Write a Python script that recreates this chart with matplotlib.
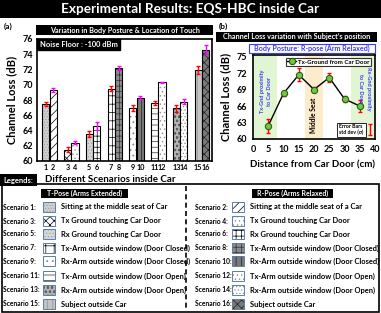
import numpy as np
import matplotlib
matplotlib.use('Agg')
from matplotlib import pyplot as plt
from matplotlib.patches import Rectangle

plt.rcParams['font.family'] = ['Lato', 'DejaVu Sans']
plt.rcParams['hatch.linewidth'] = 0.5

# --- data ---
scenarios = list(range(1, 17))
channel_loss = [67.5, 69.3, 61.5, 62.4, 63.5, 64.6, 69.5, 72.2,
                66.9, 68.3, 67.6, 70.3, 66.9, 67.8, 71.9, 74.6]
channel_err = [0.3, 0.3, 0.3, 0.2, 0.4, 0.5, 0.3, 0.3,
               0.4, 0.2, 0.3, 0.1, 0.5, 0.3, 0.5, 0.6]

distance = [5, 10, 15, 20, 25, 30, 35]
loss_pos = [62.4, 68.3, 71.7, 69.0, 71.2, 67.3, 66.0]
loss_pos_err = [1.3, 0.5, 1.2, 0.4, 0.8, 0.6, 1.1]

t_pose_desc = ['Sitting at the middle seat of Car', 'Tx Ground touching Car Door',
               'Rx Ground touching Car Door', 'Tx-Arm outside window (Door Closed)',
               'Rx-Arm outside window (Door Closed)', 'Tx-Arm outside window (Door Open)',
               'Rx-Arm outside window (Door Open)', 'Subject outside Car']
r_pose_desc = ['Sitting at the middle seat of a Car', 'Tx Ground touching Car Door',
               'Rx Ground touching Car Door', 'Tx-Arm outside window (Door Closed)',
               'Rx-Arm outside window (Door Closed)', 'Tx-Arm outside window (Door Open)',
               'Rx-Arm outside window (Door Open)', 'Subject outside Car']

# bar styles (face, hatch, hatch colour)
faces = ['#cfcfcf', 'white', 'white', 'white', '#d6d6d6', 'white', 'white', '#8c8c8c',
         'white', '#7a7a7a', 'white', 'white', '#b4b4b4', 'white', '#c4c4c4', '#7a7a7a']
hatches = ['......', '////', 'xxxx', '....', '.....', '+++', '++', '+++',
           '...', '|||', '---', '....', 'oooo', '.....', '|||', 'xxxx']
hcols = ['#a0a0a0', 'black', 'black', '#909090', '#a0a0a0', 'black', 'black', '#303030',
         '#808080', '#202020', '#303030', '#909090', '#606060', '#909090', '#909090', '#202020']

W, H = 381, 313
fig = plt.figure(figsize=(W / 100, H / 100), dpi=100)


def box(x0, y0, x1, y1, fc='black', ec='none', lw=0, ls='-', hatch=None):
    r = Rectangle((x0 / W, 1 - y1 / H), (x1 - x0) / W, (y1 - y0) / H,
                  transform=fig.transFigure, fc=fc, ec=ec, lw=lw, ls=ls, hatch=hatch)
    fig.patches.append(r)


def txt(x, y, s, **kw):
    kw.setdefault('va', 'center')
    kw.setdefault('fontweight', 'bold')
    fig.text(x / W, 1 - y / H, s, **kw)


# --- title bar ---
box(0, 0, W, 18)
txt(W / 2, 9, 'Experimental Results: EQS-HBC inside Car', ha='center', color='white', fontsize=9.8)

# --- (a) bar chart ---
ax = fig.add_axes([37 / W, 1 - 161 / H, 175 / W, 122 / H])
pos = []
for i in range(16):
    pos.append(i // 2 + (-0.17 if i % 2 == 0 else 0.17))
for i in range(16):
    ax.bar(pos[i], channel_loss[i] - 60, bottom=60, width=0.33, color=faces[i],
           edgecolor=hcols[i], hatch=hatches[i], linewidth=0)
    ax.bar(pos[i], channel_loss[i] - 60, bottom=60, width=0.33, fill=False,
           edgecolor='black', linewidth=0.8)
    ax.errorbar(pos[i], channel_loss[i], yerr=channel_err[i], fmt='none',
                ecolor='red' if i % 2 == 0 else 'magenta', elinewidth=1, capsize=1.5)
ax.set_ylim(60, 76)
ax.set_xlim(-0.57, 7.46)
ax.set_yticks(range(60, 77, 2))
ax.set_xticks(pos)
ax.set_xticklabels([str(s) for s in scenarios])
ax.tick_params(axis='both', length=0, labelsize=6.5, pad=3)
ax.tick_params(axis='x', labelsize=5.2, pad=2)
for lab in ax.get_xticklabels() + ax.get_yticklabels():
    lab.set_fontweight('bold')
for sp in ax.spines.values():
    sp.set_linewidth(1.2)
ax.text(0.015, 0.985, 'Noise Floor : -100 dBm', transform=ax.transAxes, ha='left', va='top',
        fontsize=5.4, fontweight='bold', color='white',
        bbox=dict(boxstyle='square,pad=0.3', fc='black', ec='black'))
txt(12, 100, 'Channel Loss (dB)', rotation=90, ha='center', fontsize=8)
txt(110, 179, 'Different Scenarios inside Car', ha='center', fontsize=7)
txt(8, 26, '(a)', ha='center', fontsize=6)
box(36, 25, 213, 35)
txt(124.5, 30, 'Variation in Body Posture & Location of Touch', ha='center', color='white', fontsize=5.2)

# --- (b) line chart ---
bx = fig.add_axes([253 / W, 1 - 139 / H, 122 / W, 84 / H])
bx.axvspan(0, 8, color='#e2f5d3', lw=0)
bx.axvspan(17, 23, color='#fdeccb', lw=0)
bx.axvspan(32, 40, color='#e2f5d3', lw=0)
bx.errorbar(distance, loss_pos, yerr=loss_pos_err, fmt='none', ecolor='red',
            elinewidth=1, capsize=1.5, zorder=2)
bx.plot(distance, loss_pos, '-o', color='black', lw=1, mfc='#70c83c', mec='#2c5e10',
        ms=4.5, mew=0.8, label='Tx-Ground from Car Door', zorder=3)
bx.set_xlim(0, 40)
bx.set_ylim(60, 75.3)
bx.set_yticks(range(60, 76, 3))
bx.set_xticks(range(0, 41, 5))
bx.tick_params(axis='both', length=0, labelsize=6.5, pad=4)
for lab in bx.get_xticklabels() + bx.get_yticklabels():
    lab.set_fontweight('bold')
for sp in bx.spines.values():
    sp.set_linewidth(1.2)
leg = bx.legend(loc='upper right', bbox_to_anchor=(0.99, 1.0), fontsize=4.4, frameon=True,
                handlelength=1.5, borderpad=0.2, handletextpad=0.3, fancybox=False)
leg.get_frame().set_edgecolor('black')
leg.get_frame().set_linewidth(0.8)
for t in leg.get_texts():
    t.set_fontweight('bold')
bx.text(4.3, 68.7, 'Tx-Gnd proximity\nto Car Door', rotation=90, ha='center', va='center',
        fontsize=4.0, color='#3a3aff', fontweight='bold', linespacing=1.6)
bx.text(36.5, 69.2, 'Rx-Gnd proximity\nto Car Door', rotation=270, ha='center', va='center',
        fontsize=4.0, color='#3a3aff', fontweight='bold', linespacing=1.6)
bx.text(20, 64.3, 'Middle Seat', rotation=90, ha='center', va='center', fontsize=4.8,
        fontweight='bold')
bx.text(28.3, 61.7, 'Error Bars\nstd dev (\u03c3)', fontsize=3.8, fontweight='bold', va='center',
        ha='left', linespacing=1.0,
        bbox=dict(boxstyle='square,pad=0.35', fc='white', ec='black', lw=0.6))
bx.errorbar([38.3], [61.7], yerr=[1.0], fmt='none', ecolor='red', elinewidth=1, capsize=1.5)
txt(226, 97, 'Channel Loss (dB)', rotation=90, ha='center', fontsize=8)
txt(313, 165, 'Distance from Car Door (cm)', ha='center', fontsize=7)
txt(223, 26, '(b)', ha='center', fontsize=6)
box(216, 32, 377, 42)
txt(296.5, 37, 'Channel Loss variation with Subject\u2019s position', ha='center', color='white',
    fontsize=5.2)
box(249, 44, 375, 53, fc='white', ec='#3a3aff', lw=0.8)
txt(312, 48.5, 'Body Posture: R-pose (Arm Relaxed)', ha='center', color='#3a3aff', fontsize=5.1)

# --- legends panel ---
box(2, 184, 379, 312, fc='none', ec='black', lw=1.2)
box(0, 174, 37, 186)
txt(18.5, 180, 'Legends:', ha='center', color='white', fontsize=5.5)
fig.add_artist(plt.Line2D([186 / W, 186 / W], [1 - 186 / H, 1 - 311 / H], color='black',
                          lw=1.2, ls=(0, (3, 2))))
box(41, 189, 128, 198)
txt(84.5, 193.5, 'T-Pose (Arms Extended)', ha='center', color='white', fontsize=5)
box(252, 189, 333, 198)
txt(292.5, 193.5, 'R-Pose (Arms Relaxed)', ha='center', color='white', fontsize=5)

row_y = [207, 221, 234, 248, 261, 276, 290, 304]
for k in range(8):
    y = row_y[k]
    for col, desc in ((0, t_pose_desc), (1, r_pose_desc)):
        i = 2 * k + col
        lx, sx, dx = (3, 43, 61) if col == 0 else (195, 232, 250)
        txt(lx, y, 'Scenario %d:' % (i + 1), ha='left', fontsize=4.8)
        box(sx, y - 5, sx + 12, y + 5, fc=faces[i], ec=hcols[i], lw=0, hatch=hatches[i])
        box(sx, y - 5, sx + 12, y + 5, fc='none', ec='#5b7fa8', lw=0.7)
        txt(dx, y, desc[k], ha='left', fontsize=5.4)

fig.savefig('out.png', dpi=100)
